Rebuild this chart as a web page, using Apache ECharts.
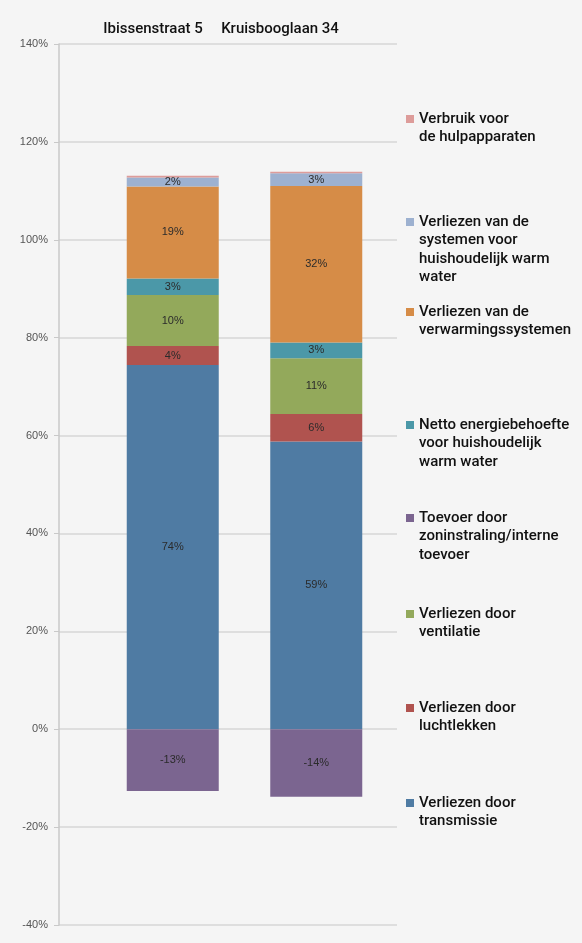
<!DOCTYPE html>
<html>
<head>
<meta charset="utf-8">
<title>Energiebalans</title>
<script src="https://cdn.jsdelivr.net/npm/echarts@6/dist/echarts.min.js"></script>
<style>
    html, body { margin: 0; padding: 0; background: #f5f5f5; }
    #main { width: 582px; height: 943px; }
</style>
</head>
<body>
<div id="main"></div>
<script>
// categorieen (woningen)
var categories = ['Ibissenstraat 5', 'Kruisbooglaan 34'];

// reeksnamen, van onder naar boven gestapeld
var names = [
    'Verliezen door transmissie',
    'Verliezen door luchtlekken',
    'Verliezen door ventilatie',
    'Netto energiebehoefte voor huishoudelijk warm water',
    'Verliezen van de verwarmingssystemen',
    'Verliezen van de systemen voor huishoudelijk warm water',
    'Verbruik voor de hulpapparaten',
    'Toevoer door zoninstraling/interne toevoer'
];
// legende tekst met regeleinden
var legendLabels = [
    'Verliezen door\ntransmissie',
    'Verliezen door\nluchtlekken',
    'Verliezen door\nventilatie',
    'Netto energiebehoefte\nvoor huishoudelijk\nwarm water',
    'Verliezen van de\nverwarmingssystemen',
    'Verliezen van de\nsystemen voor\nhuishoudelijk warm\nwater',
    'Verbruik voor\nde hulpapparaten',
    'Toevoer door\nzoninstraling/interne\ntoevoer'
];

// waarden in %
var transmissie = [74.4, 58.8];
var luchtlekken = [3.9, 5.6];
var ventilatie = [10.4, 11.4];
var nettoWarmWater = [3.4, 3.2];
var verwarming = [18.8, 32.0];
var systemenWarmWater = [1.8, 2.6];
var hulpapparaten = [0.4, 0.3];
var toevoer = [-12.6, -13.8];

var values = [transmissie, luchtlekken, ventilatie, nettoWarmWater, verwarming, systemenWarmWater, hulpapparaten, toevoer];

// y-as
var yMin = -40, yMax = 140, yStep = 20;

var colors = ['#4f7ba3', '#b0534f', '#93a95b', '#4b98a8', '#d68c47', '#9db1d0', '#dd9c9a', '#7b6590'];

// eerste-regel middens van de legende items (px)
var legendY = [803, 708, 614, 425, 312, 222, 119, 518];

var textFont = 'Roboto';
var lh = 18.5;

var myChart = echarts.init(document.getElementById('main'));

var series = [];
var legends = [];
for (var i = 0; i < names.length; i++) {
    series.push({
        name: names[i],
        type: 'bar',
        stack: 'totaal',
        xAxisIndex: 1,
        yAxisIndex: 1,
        barWidth: 92,
        data: values[i],
        itemStyle: { color: colors[i] },
        label: {
            show: true,
            position: 'inside',
            color: '#2b2b2b',
            fontFamily: 'Liberation Sans',
            fontSize: 11,
            formatter: function (p) {
                if (Math.abs(p.value) < 1) return '';
                return Math.round(p.value) + '%';
            }
        }
    });
    var n = legendLabels[i].split('\n').length;
    legends.push({
        data: [names[i]],
        left: 406,
        top: legendY[i] - (2 * n - 1) * lh / 2,
        padding: 0,
        orient: 'vertical',
        selectedMode: false,
        icon: 'rect',
        itemWidth: 8,
        itemHeight: 8,
        // lege regels ervoor zodat het icoon bij de eerste regel staat
        formatter: (function (k, cnt) {
            return function () { return new Array(cnt).join('\n') + legendLabels[k]; };
        })(i, n),
        textStyle: {
            fontFamily: textFont,
            fontSize: 15,
            fontWeight: 500,
            color: '#111',
            lineHeight: lh
        }
    });
}

var option = {
    backgroundColor: '#f5f5f5',
    animation: false,
    legend: legends,
    grid: [
        { left: 59, right: 185, top: 44, bottom: 18 },
        { left: 101, width: 287, top: 44, bottom: 18 },
        { left: 89.5, width: 254, top: 44, bottom: 18 }
    ],
    xAxis: [
        { gridIndex: 0, type: 'category', data: categories, show: false },
        { gridIndex: 1, type: 'category', data: categories, show: false },
        {
            gridIndex: 2, type: 'category', data: categories, position: 'top',
            axisLine: { show: false }, axisTick: { show: false },
            axisLabel: { interval: 0, margin: 7, fontFamily: textFont, fontSize: 15, fontWeight: 500, color: '#111' }
        }
    ],
    yAxis: [
        {
            gridIndex: 0, type: 'value', min: yMin, max: yMax, interval: yStep,
            axisLine: { show: true, lineStyle: { color: '#c9c9c9', width: 1.5 } },
            axisTick: { show: true, length: 5, lineStyle: { color: '#c9c9c9' } },
            axisLabel: {
                margin: 11, fontFamily: 'Liberation Sans', fontSize: 11, color: '#555',
                formatter: '{value}%'
            },
            splitLine: { show: true, lineStyle: { color: '#d6d6d6', width: 1.5 } }
        },
        { gridIndex: 1, type: 'value', min: yMin, max: yMax, interval: yStep, show: false, splitLine: { show: false } },
        { gridIndex: 2, type: 'value', min: yMin, max: yMax, show: false, splitLine: { show: false } }
    ],
    series: series
};

myChart.setOption(option);
</script>
</body>
</html>
